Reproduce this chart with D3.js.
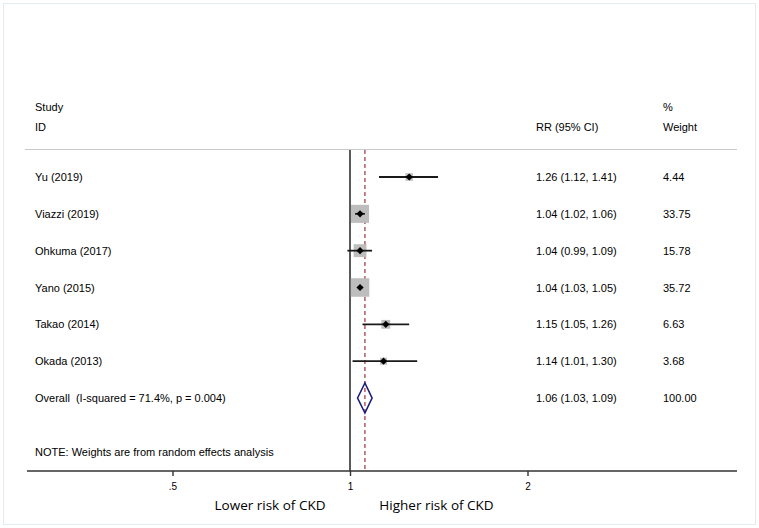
<!DOCTYPE html>
<html><head><meta charset="utf-8">
<script src="https://cdn.jsdelivr.net/npm/d3@7"></script>
<style>body{margin:0;background:#fff}svg{display:block}text{white-space:pre}</style>
</head><body>
<svg id="c" width="759" height="528"></svg>
<script>
const studies = ["Yu (2019)","Viazzi (2019)","Ohkuma (2017)","Yano (2015)","Takao (2014)","Okada (2013)"];
const rr = [1.26,1.04,1.04,1.04,1.15,1.14];
const lo = [1.12,1.02,0.99,1.03,1.05,1.01];
const hi = [1.41,1.06,1.09,1.05,1.26,1.30];
const weights = [4.44,33.75,15.78,35.72,6.63,3.68];
const overall = {label:"Overall  (I-squared = 71.4%, p = 0.004)", rr:1.06, lo:1.03, hi:1.09, weight:100.00};
const tickValues = [0.5,1,2];
const tickLabels = [".5","1","2"];
const note = "NOTE: Weights are from random effects analysis";
const sideLabels = ["Lower risk of CKD","Higher risk of CKD"];

const svg = d3.select("#c");
const F = "'Liberation Sans', Arial, sans-serif";
svg.append("rect").attr("x",3.5).attr("y",3.5).attr("width",752).attr("height",521)
  .attr("fill","#fff").attr("stroke","#e2ecee").attr("stroke-width",1);

const x = d3.scaleLog().domain([0.5,2]).range([172.5,527.5]);
const rows = d3.scaleLinear().domain([0,6]).range([177,398]);
const fmt = d3.format(".2f");
const plotTop = 150, axisY = 471;

// headers
const hdr = svg.append("g").attr("font-family",F).attr("font-size",11).attr("fill","#000");
hdr.append("text").attr("x",35).attr("y",111).text("Study");
hdr.append("text").attr("x",35).attr("y",131).text("ID");
hdr.append("text").attr("x",536).attr("y",131).text("RR (95% CI)");
hdr.append("text").attr("x",663).attr("y",111).text("%");
hdr.append("text").attr("x",663).attr("y",131).text("Weight");
svg.append("line").attr("x1",25).attr("x2",737).attr("y1",149.5).attr("y2",149.5)
  .attr("stroke","#c8c8c8").attr("stroke-width",1);

// reference lines
svg.append("line").attr("x1",x(1)).attr("x2",x(1)).attr("y1",plotTop).attr("y2",axisY)
  .attr("stroke","#000").attr("stroke-width",1.3);
svg.append("line").attr("x1",x(overall.rr)).attr("x2",x(overall.rr)).attr("y1",plotTop).attr("y2",axisY)
  .attr("stroke","#a0323c").attr("stroke-width",1.2).attr("stroke-dasharray","4,3");

// study rows
const data = studies.map((s,i)=>({s, rr:rr[i], lo:lo[i], hi:hi[i], w:weights[i], i}));
const g = svg.append("g");
data.forEach(d=>{
  const y = rows(d.i);
  const sz = 2.85*Math.sqrt(d.w)+1.5;
  g.append("rect").attr("x",x(d.rr)-sz/2).attr("y",y-sz/2).attr("width",sz).attr("height",sz).attr("fill","#bdbdbd");
  g.append("line").attr("x1",x(d.lo)).attr("x2",x(d.hi)).attr("y1",y).attr("y2",y)
    .attr("stroke","#1a1a1a").attr("stroke-width",1.8);
  const cx = x(d.rr), r = 3.6;
  g.append("path").attr("d",`M${cx-r},${y}L${cx},${y-r}L${cx+r},${y}L${cx},${y+r}Z`).attr("fill","#000");
  const t = g.append("g").attr("font-family",F).attr("font-size",11).attr("fill","#000");
  t.append("text").attr("x",35).attr("y",y+4).text(d.s);
  t.append("text").attr("x",536).attr("y",y+4).text(`${fmt(d.rr)} (${fmt(d.lo)}, ${fmt(d.hi)})`);
  t.append("text").attr("x",663).attr("y",y+4).text(fmt(d.w));
});

// overall
const oy = rows(6);
svg.append("path").attr("d",`M${x(overall.lo)},${oy}L${x(overall.rr)},${oy-15}L${x(overall.hi)},${oy}L${x(overall.rr)},${oy+15}Z`)
  .attr("fill","none").attr("stroke","#1c1c7a").attr("stroke-width",1.6);
const ot = svg.append("g").attr("font-family",F).attr("font-size",11).attr("fill","#000");
ot.append("text").attr("x",35).attr("y",oy+4).attr("xml:space","preserve").text(overall.label);
ot.append("text").attr("x",536).attr("y",oy+4).text(`${fmt(overall.rr)} (${fmt(overall.lo)}, ${fmt(overall.hi)})`);
ot.append("text").attr("x",663).attr("y",oy+4).text(fmt(overall.weight));
ot.append("text").attr("x",35).attr("y",456).text(note);

// axis
svg.append("line").attr("x1",27).attr("x2",737).attr("y1",axisY).attr("y2",axisY)
  .attr("stroke","#333").attr("stroke-width",1.4);
const ax = svg.append("g").attr("transform",`translate(0,${axisY})`)
  .call(d3.axisBottom(x).tickValues(tickValues).tickFormat((d,i)=>tickLabels[i]).tickSize(5).tickPadding(7));
ax.select(".domain").remove();
ax.selectAll(".tick line").attr("stroke","#333").attr("stroke-width",1.4);
ax.selectAll(".tick text").attr("font-family",F).attr("font-size",10).attr("fill","#000");

svg.append("text").attr("x",270).attr("y",510).attr("text-anchor","middle")
  .attr("font-family","'Open Sans', sans-serif").attr("font-size",13.5).attr("fill","#000").text(sideLabels[0]);
svg.append("text").attr("x",436.5).attr("y",510).attr("text-anchor","middle")
  .attr("font-family","'Open Sans', sans-serif").attr("font-size",13.5).attr("fill","#000").text(sideLabels[1]);
</script>
</body></html>
